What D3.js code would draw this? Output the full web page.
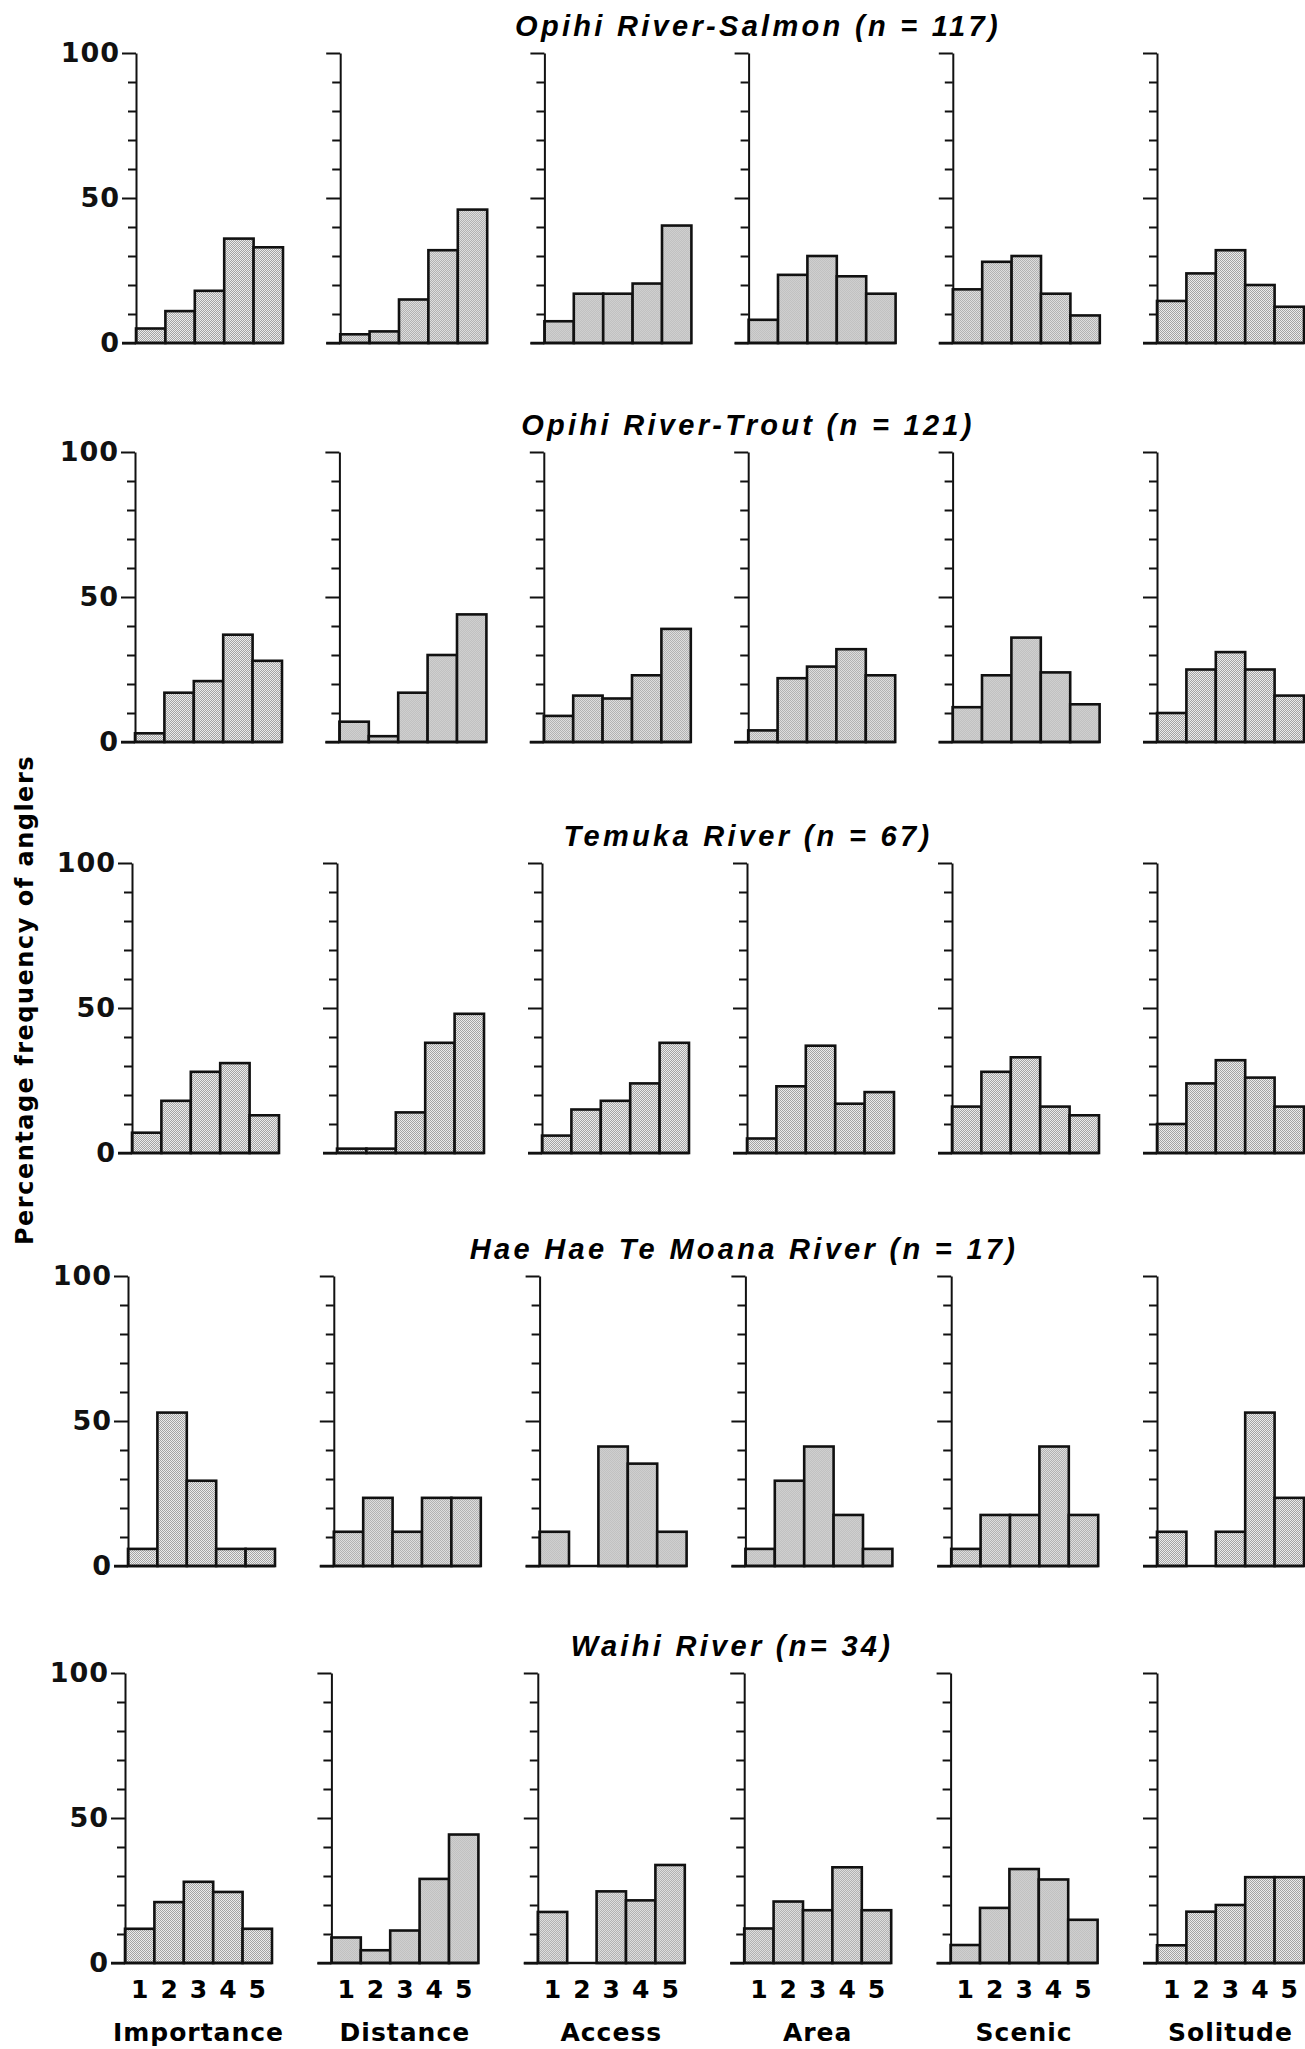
<!DOCTYPE html>
<html>
<head>
<meta charset="utf-8">
<script src="https://cdn.jsdelivr.net/npm/d3@7"></script>
<style>
  body { margin: 0; background: #fff; }
  svg { display: block; }
</style>
</head>
<body>
<svg id="chart" width="1305" height="2049"></svg>
<script>
// categories and ratings
const categories = ["Importance", "Distance", "Access", "Area", "Scenic", "Solitude"];
const ratings = [1, 2, 3, 4, 5];
const riverTitles = [
  "Opihi River-Salmon (n = 117)",
  "Opihi River-Trout (n = 121)",
  "Temuka River (n = 67)",
  "Hae Hae Te Moana River (n = 17)",
  "Waihi River (n= 34)"
];
const yTicks = [0, 10, 20, 30, 40, 50, 60, 70, 80, 90, 100];
const majorTicks = [0, 50, 100];

// percentage of anglers for rating 1..5, one list per category
const opihiSalmon = [
  [5, 11, 18, 36, 33],
  [3, 4, 15, 32, 46],
  [7.5, 17, 17, 20.5, 40.5],
  [8, 23.5, 30, 23, 17],
  [18.5, 28, 30, 17, 9.5],
  [14.5, 24, 32, 20, 12.5]
];
const opihiTrout = [
  [3, 17, 21, 37, 28],
  [7, 2, 17, 30, 44],
  [9, 16, 15, 23, 39],
  [4, 22, 26, 32, 23],
  [12, 23, 36, 24, 13],
  [10, 25, 31, 25, 16]
];
const temuka = [
  [7, 18, 28, 31, 13],
  [1.5, 1.5, 14, 38, 48],
  [6, 15, 18, 24, 38],
  [5, 23, 37, 17, 21],
  [16, 28, 33, 16, 13],
  [10, 24, 32, 26, 16]
];
const haeHae = [
  [5.9, 52.9, 29.4, 5.9, 5.9],
  [11.8, 23.5, 11.8, 23.5, 23.5],
  [11.8, 0, 41.2, 35.3, 11.8],
  [5.9, 29.4, 41.2, 17.6, 5.9],
  [5.9, 17.6, 17.6, 41.2, 17.6],
  [11.8, 0, 11.8, 52.9, 23.5]
];
const waihi = [
  [11.8, 21, 28, 24.5, 11.8],
  [8.8, 4.4, 11.2, 29, 44.3],
  [17.6, 0, 24.7, 21.6, 33.8],
  [11.9, 21.2, 18.2, 33, 18.2],
  [6.2, 19, 32.4, 28.8, 14.9],
  [6.1, 17.7, 20, 29.6, 29.6]
];
const riverData = [opihiSalmon, opihiTrout, temuka, haeHae, waihi];

// layout
const rowTop = [53, 452, 863, 1276, 1673];
const rowX0 = [136, 135, 132, 128, 125];
const lastPanelX = 1157;
const titleX = [758, 748, 748, 744, 732];
const plotH = 290, plotW = 147;
const boldFont = "'DejaVu Sans', sans-serif";

const svg = d3.select("#chart");

// halftone-like fill
const pat = svg.append("defs").append("pattern")
  .attr("id", "stipple")
  .attr("width", 2).attr("height", 2)
  .attr("patternUnits", "userSpaceOnUse");
pat.append("rect").attr("width", 2).attr("height", 2).attr("fill", "#ececec");
pat.append("rect").attr("width", 1).attr("height", 1).attr("fill", "#a4a4a4");
pat.append("rect").attr("x", 1).attr("y", 1).attr("width", 1).attr("height", 1).attr("fill", "#a4a4a4");

const y = d3.scaleLinear().domain([0, 100]).range([plotH, 0]);
const x = d3.scaleBand().domain(ratings).range([0, plotW]).padding(0);

riverData.forEach((river, r) => {
  const step = (lastPanelX - rowX0[r]) / 5;
  const row = svg.append("g").attr("transform", `translate(0,${rowTop[r]})`);

  row.append("text")
    .attr("x", titleX[r])
    .attr("y", -17)
    .attr("text-anchor", "middle")
    .style("font-family", "'Liberation Sans', Arial, sans-serif")
    .style("font-weight", "bold")
    .style("font-style", "italic")
    .style("font-size", "29px")
    .style("letter-spacing", "3.3px")
    .text(riverTitles[r]);

  river.forEach((vals, c) => {
    const g = row.append("g")
      .attr("transform", `translate(${rowX0[r] + c * step},0)`);

    g.selectAll("rect.bar")
      .data(vals)
      .join("rect")
      .attr("class", "bar")
      .attr("x", (d, i) => x(ratings[i]))
      .attr("y", d => y(d))
      .attr("width", x.bandwidth())
      .attr("height", d => plotH - y(d))
      .attr("fill", "url(#stipple)")
      .attr("stroke", "#111")
      .attr("stroke-width", 2.6);

    const axis = d3.axisLeft(y)
      .tickValues(yTicks)
      .tickSizeOuter(0)
      .tickFormat(d => (c === 0 && majorTicks.includes(d)) ? d : "");

    const ag = g.append("g").call(axis);
    ag.select(".domain").attr("stroke", "#111").attr("stroke-width", 2);
    ag.selectAll(".tick line")
      .attr("stroke", "#111")
      .attr("stroke-width", 2)
      .attr("x2", d => majorTicks.includes(d) ? -14 : -8);
    ag.selectAll(".tick text")
      .attr("x", -16)
      .attr("fill", "#111")
      .style("font-family", boldFont)
      .style("font-weight", "bold")
      .style("font-size", "27px")
      .style("letter-spacing", "1px");

    // baseline
    g.append("line")
      .attr("x1", -14).attr("x2", plotW)
      .attr("y1", y(0)).attr("y2", y(0))
      .attr("stroke", "#111")
      .attr("stroke-width", 2.6);

    if (r === riverData.length - 1) {
      g.selectAll("text.rating")
        .data(ratings)
        .join("text")
        .attr("class", "rating")
        .attr("x", d => x(d) + x.bandwidth() / 2)
        .attr("y", 325)
        .attr("text-anchor", "middle")
        .style("font-family", boldFont)
        .style("font-weight", "bold")
        .style("font-size", "25px")
        .text(d => d);

      g.append("text")
        .attr("x", plotW / 2)
        .attr("y", 368)
        .attr("text-anchor", "middle")
        .style("font-family", boldFont)
        .style("font-weight", "bold")
        .style("font-size", "25px")
        .style("letter-spacing", "1px")
        .text(categories[c]);
    }
  });
});

// y axis title
svg.append("text")
  .attr("transform", "translate(33,1000) rotate(-90)")
  .attr("text-anchor", "middle")
  .style("font-family", boldFont)
  .style("font-weight", "bold")
  .style("font-size", "24px")
  .style("letter-spacing", "1.5px")
  .text("Percentage frequency of anglers");
</script>
</body>
</html>
